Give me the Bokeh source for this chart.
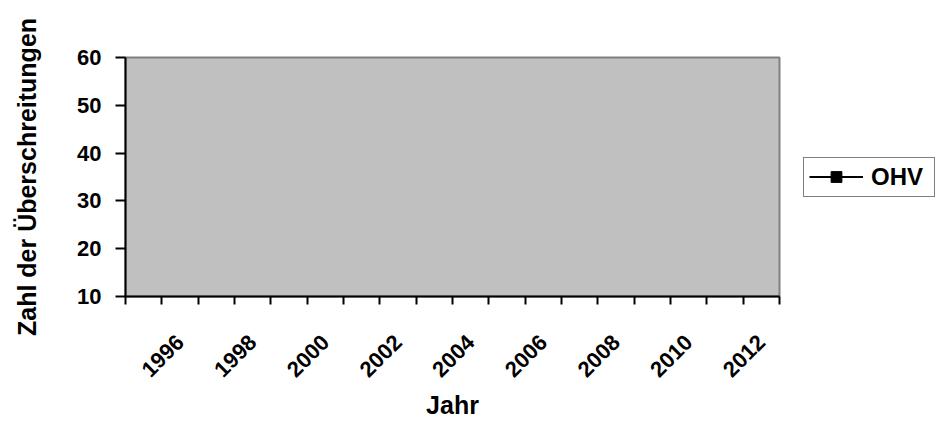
import numpy as np
from bokeh.plotting import figure
from bokeh.layouts import row
from bokeh.models import FixedTicker, Legend, LegendItem, Range1d
from bokeh.embed import file_html
from bokeh.resources import INLINE

nan = np.nan
years = [1995, 1996, 1997, 1998, 1999, 2000, 2001, 2002, 2003,
         2004, 2005, 2006, 2007, 2008, 2009, 2010, 2011, 2012]
# no values are visible in the reference chart: the OHV series is empty
ohv = [nan, nan, nan, nan, nan, nan, nan, nan, nan,
       nan, nan, nan, nan, nan, nan, nan, nan, nan]
label_years = [1996, 1998, 2000, 2002, 2004, 2006, 2008, 2010, 2012]
y_ticks = [10, 20, 30, 40, 50, 60]
series_name = "OHV"
x_title = "Jahr"
y_title = "Zahl der Überschreitungen"

FONT = "Liberation Sans"
TICK_FS = "22px"
TITLE_FS = "25px"

p = figure(width=795, height=424, output_backend="svg", toolbar_location=None,
           x_range=Range1d(years[0] - 0.5, years[-1] + 0.5),
           y_range=Range1d(y_ticks[0], y_ticks[-1]),
           min_border_left=125, min_border_top=57,
           min_border_right=16, min_border_bottom=128)

p.border_fill_color = "white"
p.background_fill_color = "#c0c0c0"
p.outline_line_color = "#808080"
p.outline_line_width = 2
p.xgrid.visible = False
p.ygrid.visible = False

p.line(years, ohv, line_color="black", line_width=2)
p.scatter(years, ohv, marker="square", size=12, fill_color="black", line_color="black")

# x axis: boundaries between years as tick marks, labels at even years
boundaries = [y - 0.5 for y in years] + [years[-1] + 0.5]
xa = p.xaxis[0]
xa.ticker = FixedTicker(ticks=label_years, minor_ticks=boundaries)
xa.major_tick_out = 8
xa.major_tick_in = 0
xa.major_tick_line_color = None
xa.minor_tick_out = 8
xa.minor_tick_in = 0
xa.minor_tick_line_color = "black"
xa.minor_tick_line_width = 2
xa.axis_line_color = "black"
xa.axis_line_width = 2
xa.major_label_orientation = np.pi / 4
xa.major_label_text_font = FONT
xa.major_label_text_font_style = "bold"
xa.major_label_text_font_size = TICK_FS
xa.major_label_text_color = "black"
xa.major_label_standoff = 34
xa.axis_label = x_title
xa.axis_label_text_font = FONT
xa.axis_label_text_font_style = "bold"
xa.axis_label_text_font_size = TITLE_FS
xa.axis_label_text_color = "black"
xa.axis_label_standoff = 4

ya = p.yaxis[0]
ya.ticker = FixedTicker(ticks=y_ticks, minor_ticks=[])
ya.major_tick_out = 10
ya.major_tick_in = 0
ya.major_tick_line_width = 2
ya.major_tick_line_color = "black"
ya.axis_line_color = "black"
ya.axis_line_width = 2
ya.major_label_text_font = FONT
ya.major_label_text_font_style = "bold"
ya.major_label_text_font_size = TICK_FS
ya.major_label_text_color = "black"
ya.major_label_standoff = 14
ya.axis_label = y_title
ya.axis_label_text_font = FONT
ya.axis_label_text_font_style = "bold"
ya.axis_label_text_font_size = TITLE_FS
ya.axis_label_text_color = "black"
ya.axis_label_standoff = 33

# legend panel to the right of the chart
q = figure(width=140, height=424, output_backend="svg", toolbar_location=None,
           x_range=Range1d(years[0] - 0.5, years[-1] + 0.5),
           y_range=Range1d(y_ticks[0], y_ticks[-1]),
           min_border_left=0, min_border_right=0,
           min_border_top=57, min_border_bottom=128,
           x_axis_location=None, y_axis_location=None)
q.outline_line_color = None
q.background_fill_color = "white"
q.border_fill_color = "white"
q.xgrid.visible = False
q.ygrid.visible = False
lr = q.line(years, ohv, line_color="black", line_width=2)
sr = q.scatter(years, ohv, marker="square", size=12, fill_color="black", line_color="black")

legend = Legend(items=[LegendItem(label=series_name, renderers=[lr, sr])],
                location="center_left", orientation="vertical")
legend.glyph_width = 54
legend.glyph_height = 27
legend.label_text_font = FONT
legend.label_text_font_style = "bold"
legend.label_text_font_size = "24px"
legend.label_text_color = "black"
legend.label_standoff = 8
legend.label_height = 27
legend.label_width = 58
legend.padding = 5
legend.margin = 8
legend.border_line_color = "black"
legend.border_line_width = 1.5
legend.background_fill_color = "white"
legend.background_fill_alpha = 1
q.add_layout(legend, "center")

layout = row(p, q)
open("out.html", "w").write(file_html(layout, INLINE))
